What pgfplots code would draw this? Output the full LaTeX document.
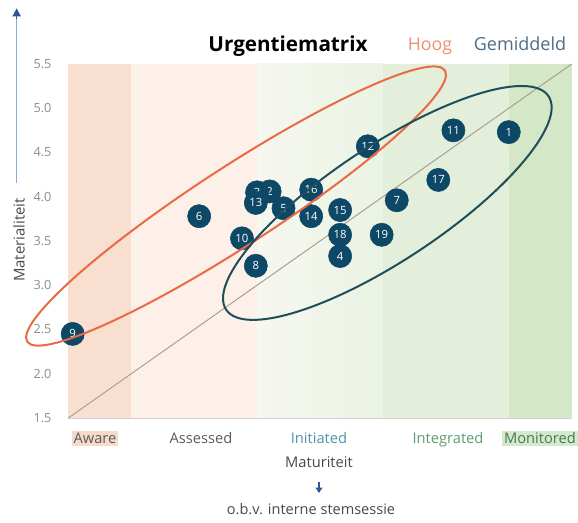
\documentclass[border=0pt]{standalone}
\usepackage{fontspec}
\setmainfont{Open Sans}
\usepackage{pgfplots}
\pgfplotsset{compat=1.18}
\usetikzlibrary{arrows.meta}
\definecolor{markc}{HTML}{0D4866}
\definecolor{orng}{HTML}{EA6A45}
\definecolor{hoog}{HTML}{F08E73}
\definecolor{gemid}{HTML}{4F6C86}
\definecolor{blu}{HTML}{1E4D5C}
\definecolor{awr}{HTML}{F9DFD0}
\definecolor{ass}{HTML}{FDF0E8}
\definecolor{iniL}{HTML}{F6F7EF}
\definecolor{iniR}{HTML}{EAF3E4}
\definecolor{intg}{HTML}{E3EFDA}
\definecolor{mon}{HTML}{D4E7C6}
\definecolor{tickg}{HTML}{8C8C8C}
\definecolor{labg}{HTML}{5A5A5A}
\definecolor{awrbg}{HTML}{F8DACA}
\definecolor{inic}{HTML}{4F94A6}
\definecolor{intc}{HTML}{5C9E6B}
\definecolor{monc}{HTML}{3E7D52}
\definecolor{monbg}{HTML}{D6E9CD}
\definecolor{diag}{HTML}{A29C94}
\definecolor{arrl}{HTML}{8EAADB}
\definecolor{arrd}{HTML}{2F5597}
\begin{document}
\begin{tikzpicture}
\useasboundingbox (0,0) rectangle (433.5pt,392.25pt);
\begin{axis}[
  at={(51.225pt,78.75pt)}, anchor=south west,
  scale only axis, width=377.55pt, height=265.5pt,
  xmin=1.5, xmax=5.5, ymin=1.5, ymax=5.5,
  axis line style={draw=none},
  xtick=\empty,
  ytick={1.5,2.0,2.5,3.0,3.5,4.0,4.5,5.0,5.5},
  major tick length=0pt,
  yticklabel style={anchor=east, inner sep=0pt, xshift=-12.5pt, text=tickg,
    font=\fontsize{9.5}{11}\selectfont,
    /pgf/number format/.cd, fixed, fixed zerofill, precision=1, assume math mode=true},
  clip=false,
]
% background bands
\fill[awr] (axis cs:1.5,1.5) rectangle (axis cs:2,5.5);
\fill[ass] (axis cs:2,1.5) rectangle (axis cs:3,5.5);
\shade[left color=iniL, right color=iniR] (axis cs:3,1.5) rectangle (axis cs:4,5.5);
\fill[intg] (axis cs:4,1.5) rectangle (axis cs:5,5.5);
\fill[mon] (axis cs:5,1.5) rectangle (axis cs:5.5,5.5);
\draw[gray!35, line width=0.6pt] (axis cs:1.5,1.5) -- (axis cs:5.5,1.5);
% diagonal
\addplot[diag, line width=0.7pt, no marks] coordinates {(1.5,1.5) (5.5,5.5)};
% points
\addplot[only marks, mark=*, mark size=8.7pt,
  mark options={fill=markc, draw=markc},
  point meta=explicit symbolic, nodes near coords,
  every node near coord/.append style={anchor=center, text=white, inner sep=0pt,
    font=\fontsize{8.5}{9}\selectfont}]
  table[x=x, y=y, meta=lab] {
x y lab
5.00 4.73 1
3.10 4.06 2
3.66 3.33 4
3.21 3.87 5
2.54 3.78 6
4.11 3.96 7
2.99 3.22 8
1.535 2.45 9
2.88 3.53 10
4.56 4.75 11
3.88 4.57 12
3.43 3.78 14
3.66 3.85 15
3.43 4.08 16
4.44 4.19 17
3.66 3.57 18
3.99 3.57 19
3.00 4.05 3
2.99 3.93 13
};
\coordinate (oc) at (axis cs:2.833,3.895);
\coordinate (bc) at (axis cs:4.035,3.93);
\end{axis}
% ellipses
\draw[orng, line width=1.5pt, rotate around={33:(oc)}] (oc) ellipse [x radius=186.75pt, y radius=29.5pt];
\draw[blu, line width=1.5pt, rotate around={33.5:(bc)}] (bc) ellipse [x radius=145pt, y radius=43pt];
% title
\node[anchor=base, font=\fontsize{15.5}{17}\selectfont\bfseries, text=black] at (216pt,353.5pt) {Urgentiematrix};
\node[anchor=base, font=\fontsize{13.3}{15}\selectfont, text=hoog] at (322.5pt,354.5pt) {Hoog};
\node[anchor=base, font=\fontsize{13.5}{15}\selectfont, text=gemid] at (390pt,354.5pt) {Gemiddeld};
% category labels
\node[anchor=base, font=\fontsize{11}{12}\selectfont, text=labg, fill=awrbg, inner sep=1.5pt] at (71.25pt,59.25pt) {Aware};
\node[anchor=base, font=\fontsize{11}{12}\selectfont, text=labg, inner sep=1.5pt] at (150.75pt,59.25pt) {Assessed};
\node[anchor=base, font=\fontsize{11}{12}\selectfont, text=inic, inner sep=1.5pt] at (239.25pt,59.25pt) {Initiated};
\node[anchor=base, font=\fontsize{11}{12}\selectfont, text=intc, inner sep=1.5pt] at (336pt,59.25pt) {Integrated};
\node[anchor=base, font=\fontsize{11}{12}\selectfont, text=monc, fill=monbg, inner sep=1.5pt] at (405pt,59.25pt) {Monitored};
% axis titles
\node[anchor=base, font=\fontsize{11}{12}\selectfont, text=labg!80!black] at (239.25pt,41.25pt) {Maturiteit};
\draw[arrd, line width=1pt, -{Triangle[length=4pt,width=5pt]}] (239.25pt,30.75pt) -- (239.25pt,22.5pt);
\node[anchor=base, font=\fontsize{10.9}{12}\selectfont, text=labg!80!black] at (233.25pt,6pt) {o.b.v. interne stemsessie};
\node[rotate=90, font=\fontsize{11.2}{12}\selectfont, text=labg!80!black] at (14.25pt,212.25pt) {Materialiteit};
\draw[arrl, line width=1.2pt] (12.5pt,255pt) -- (12.5pt,380pt);
\draw[arrd, line width=1.2pt, -{Triangle[length=6pt,width=6pt]}] (12.5pt,378pt) -- (12.5pt,386pt);
\end{tikzpicture}
\end{document}
